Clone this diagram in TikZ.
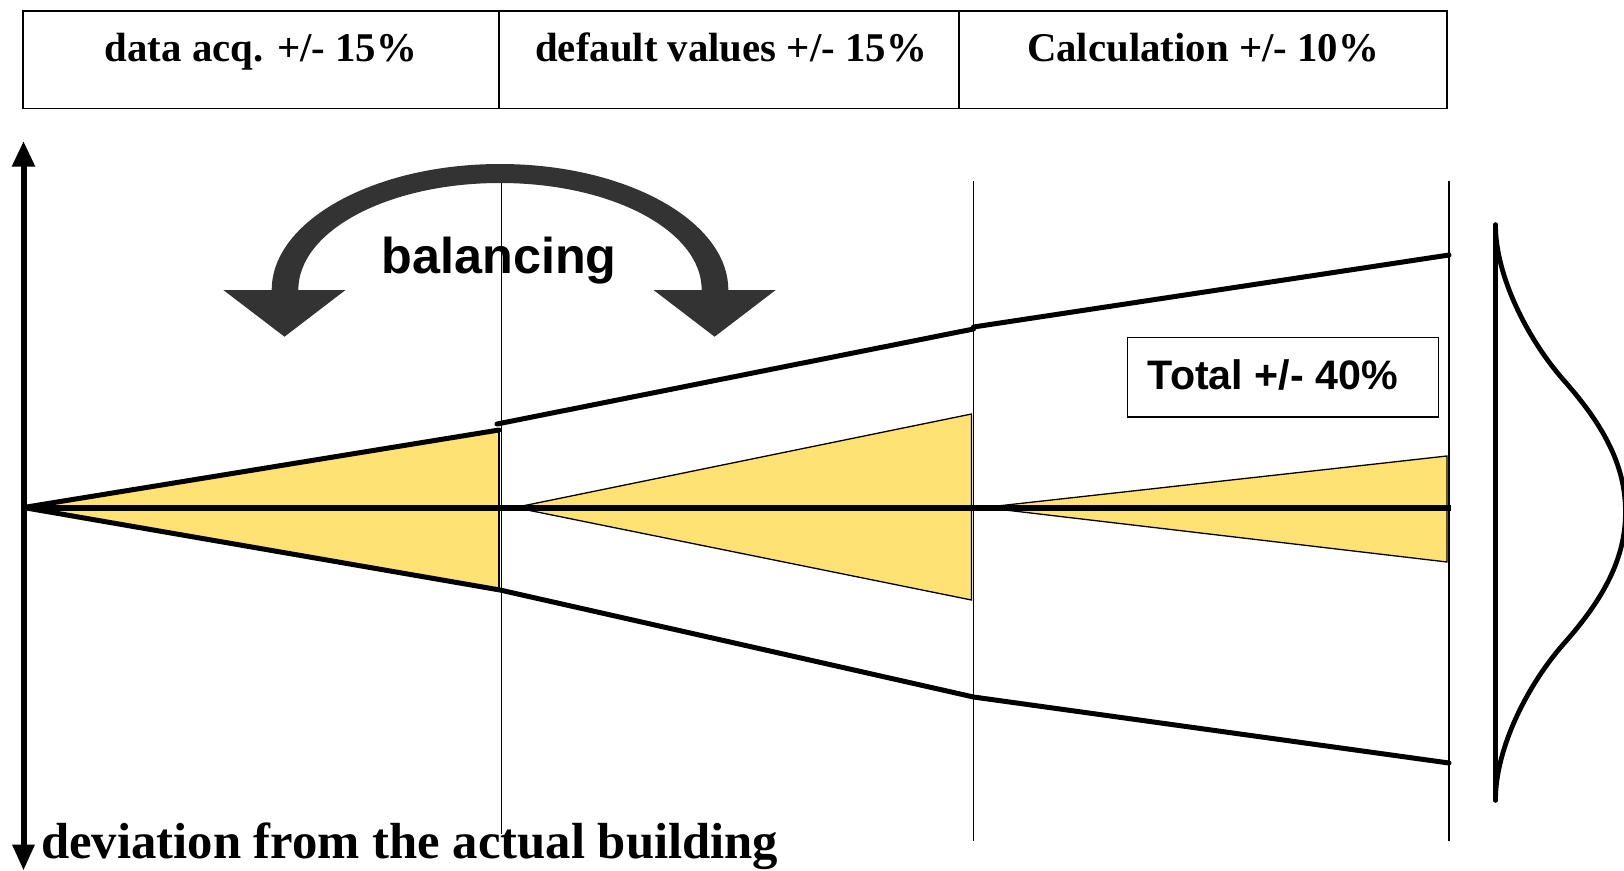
\documentclass[tikz,border=0pt]{standalone}
\usepackage{fontspec}
\setmainfont{Liberation Serif}
\newfontfamily\arialfont{Liberation Sans}
\definecolor{fillyellow}{RGB}{255,226,115}
\definecolor{arcgray}{RGB}{51,51,51}
\begin{document}
\begin{tikzpicture}[x=1pt,y=-1pt,
  thickline/.style={line width=5pt, line cap=round, line join=round},
  axisline/.style={line width=6pt},
  thinline/.style={line width=1.4pt},
  tri/.style={fill=fillyellow, draw=black, line width=1.3pt, line join=miter},
  boxline/.style={draw, line width=1.6pt},
  boxtext/.style={font=\bfseries\fontsize{40.8}{48}\selectfont, anchor=base, inner sep=0pt},
  bigserif/.style={font=\bfseries\fontsize{50.7}{60}\selectfont, anchor=base west, inner sep=0pt},
  sanslabel/.style={font=\arialfont\bfseries\fontsize{#1}{#1}\selectfont, inner sep=0pt},
  headfill/.style={fill=black}]
\useasboundingbox (0,0) rectangle (1624,870);
\clip (0,0) rectangle (1624,870);

% ---- top header boxes
\coordinate (hTL) at (23,11);
\coordinate (hBR) at (1447,108.5);
\draw[boxline] (hTL) rectangle (hBR);
\coordinate (d1t) at (499,11);  \coordinate (d1b) at (499,108.5);
\coordinate (d2t) at (959,11);  \coordinate (d2b) at (959,108.5);
\draw[boxline] (d1t) -- (d1b);
\draw[boxline] (d2t) -- (d2b);
\node[boxtext] (h1) at (261,61.7) {data acq. +/- 15\%};
\node[boxtext] (h2) at (731,61.7) {default values +/- 15\%};
\node[boxtext] (h3) at (1203,61.7) {Calculation +/- 10\%};

% ---- vertical stage lines
\coordinate (v1t) at (501.5,181); \coordinate (v1b) at (501.5,834);
\coordinate (v2t) at (973.5,181); \coordinate (v2b) at (973.5,841);
\coordinate (v3t) at (1449,181);  \coordinate (v3b) at (1449,841);
\draw[thinline] (v1t) -- (v1b);
\draw[thinline] (v2t) -- (v2b);
\draw[thinline] (v3t) -- (v3b);

% ---- key points
\coordinate (o)  at (23.5,507.5);
\coordinate (u1) at (499,430);
\coordinate (u2a) at (497,424);
\coordinate (u2) at (973.5,329);
\coordinate (u3a) at (973.5,327);
\coordinate (u3) at (1449,255);
\coordinate (l1) at (500,590);
\coordinate (l2) at (973.5,697);
\coordinate (l3) at (1449,763);
\coordinate (axend) at (1451,507.5);

% ---- yellow wedges
\fill[fillyellow] (o) -- (u1) -- (499,589) -- cycle;
\draw[thinline] (u1) -- (499,589);
\draw[tri] (515,507.5) -- (971.5,414) -- (971.5,600) -- cycle;
\draw[tri] (984,507.5) -- (1447,456) -- (1447,562) -- cycle;

% ---- envelope lines
\draw[thickline] (o) -- (u1);
\draw[thickline] (u2a) -- (u2);
\draw[thickline] (u3a) -- (u3);
\draw[thickline] (o) -- (l1) -- (l2) -- (l3);

% ---- horizontal axis
\draw[axisline] (o) -- (axend);

% ---- vertical axis with two heads
\coordinate (axtop) at (23.5,166);
\coordinate (axbot) at (23.5,845);
\draw[line width=6pt] (axtop) -- (axbot);
\fill[headfill] (23.5,141.7) -- (35.3,166.5) -- (11.7,166.5) -- cycle;
\fill[headfill] (23.5,869.8) -- (35,844.5) -- (12,844.5) -- cycle;

% ---- balancing curved double arrow
\fill[arcgray] (271.7,290) .. controls (271.7,221) and (373.9,164) .. (500,164)
  .. controls (626.1,164) and (728.3,221) .. (728.3,290) -- (701.7,290)
  .. controls (701.7,230.5) and (611.4,183) .. (500,183)
  .. controls (388.6,183) and (298.3,230.5) .. (298.3,290) -- cycle;
\fill[arcgray] (223.3,290) -- (345.5,290) -- (284.5,336.7) -- cycle;
\fill[arcgray] (653.5,290) -- (775.7,290) -- (714.6,336.7) -- cycle;
\node[sanslabel=50.3, anchor=base] (bal) at (499.2,273.3) {balancing};
\draw[thinline] (501.5,183) -- (501.5,300);

% ---- total box
\node[draw, line width=1.6pt, minimum width=311pt, minimum height=79.4pt, inner sep=0pt] (totbox) at (1282.8,377) {};
\node[sanslabel=41.2, anchor=base west] (tot) at (1147.7,389.5) {Total +/- 40\%};

% ---- bottom label
\node[bigserif] (dev) at (41,858) {deviation from the actual building};

% ---- distribution curve
\coordinate (bt) at (1495.5,225);
\coordinate (bb) at (1495.5,800);
\draw[line width=5.5pt, line cap=round] (bt) -- (bb);
\draw[line width=4.8pt, line cap=round] (bt)
  .. controls (1495.5,276) and (1527.5,339) .. (1563.5,380)
  .. controls (1604,425.5) and (1625.5,466) .. (1625.5,512)
  .. controls (1625.5,558) and (1604,598.5) .. (1563.5,644)
  .. controls (1527.5,685) and (1495.5,748) .. (bb);
\end{tikzpicture}
\end{document}
